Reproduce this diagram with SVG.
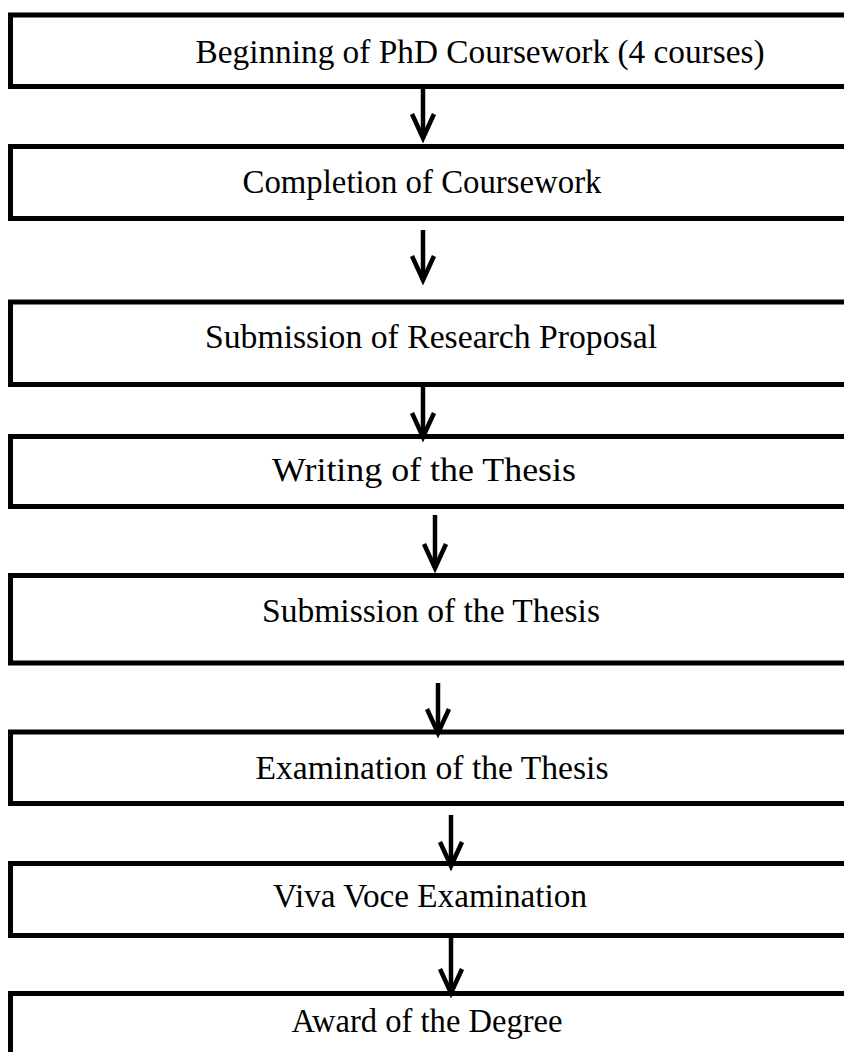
<svg xmlns="http://www.w3.org/2000/svg" width="844" height="1052" viewBox="0 0 844 1052">
<defs>
<style>
.box{fill:#fff;stroke:#000;stroke-width:5}
.lbl{font-family:"Liberation Serif","DejaVu Serif",serif;font-size:34px;fill:#000;text-anchor:middle}
.conn{stroke:#000;stroke-width:4.5;fill:none;marker-end:url(#ah)}
</style>
<marker id="ah" markerUnits="userSpaceOnUse" markerWidth="40" markerHeight="40" refX="0" refY="0" orient="auto" overflow="visible">
<path d="M-24,-11 L0,0 L-24,11" fill="none" stroke="#000" stroke-width="4.5" stroke-linejoin="miter"/>
</marker>
</defs>
<rect width="844" height="1052" fill="#fff"/>
<g id="n1"><rect class="box" x="10.5" y="15" width="900" height="71.5"/><text class="lbl" x="480" y="63" textLength="569" lengthAdjust="spacingAndGlyphs">Beginning of PhD Coursework (4 courses)</text></g>
<g id="n2"><rect class="box" x="10.5" y="146.5" width="900" height="72"/><text class="lbl" x="422" y="193" textLength="359" lengthAdjust="spacingAndGlyphs">Completion of Coursework</text></g>
<g id="n3"><rect class="box" x="10.5" y="302" width="900" height="82.5"/><text class="lbl" x="431" y="348" textLength="452" lengthAdjust="spacingAndGlyphs">Submission of Research Proposal</text></g>
<g id="n4"><rect class="box" x="10.5" y="436.5" width="900" height="70"/><text class="lbl" x="424" y="481" textLength="304" lengthAdjust="spacingAndGlyphs">Writing of the Thesis</text></g>
<g id="n5"><rect class="box" x="10.5" y="575.5" width="900" height="87.5"/><text class="lbl" x="431" y="622" textLength="338" lengthAdjust="spacingAndGlyphs">Submission of the Thesis</text></g>
<g id="n6"><rect class="box" x="10.5" y="732" width="900" height="71.5"/><text class="lbl" x="432" y="779" textLength="353" lengthAdjust="spacingAndGlyphs">Examination of the Thesis</text></g>
<g id="n7"><rect class="box" x="10.5" y="863.5" width="900" height="72"/><text class="lbl" x="430" y="907" textLength="314" lengthAdjust="spacingAndGlyphs">Viva Voce Examination</text></g>
<g id="n8"><rect class="box" x="10.5" y="993.5" width="900" height="80"/><text class="lbl" x="427" y="1032" textLength="271" lengthAdjust="spacingAndGlyphs">Award of the Degree</text></g>
<g id="connectors">
<line class="conn" x1="423" y1="89" x2="423" y2="138"/>
<line class="conn" x1="423" y1="230" x2="423" y2="280"/>
<line class="conn" x1="423" y1="387" x2="423" y2="437"/>
<line class="conn" x1="435" y1="515" x2="435" y2="568"/>
<line class="conn" x1="438" y1="683" x2="438" y2="733"/>
<line class="conn" x1="451" y1="815" x2="451" y2="866"/>
<line class="conn" x1="451" y1="938" x2="451" y2="993"/>
</g>
</svg>
